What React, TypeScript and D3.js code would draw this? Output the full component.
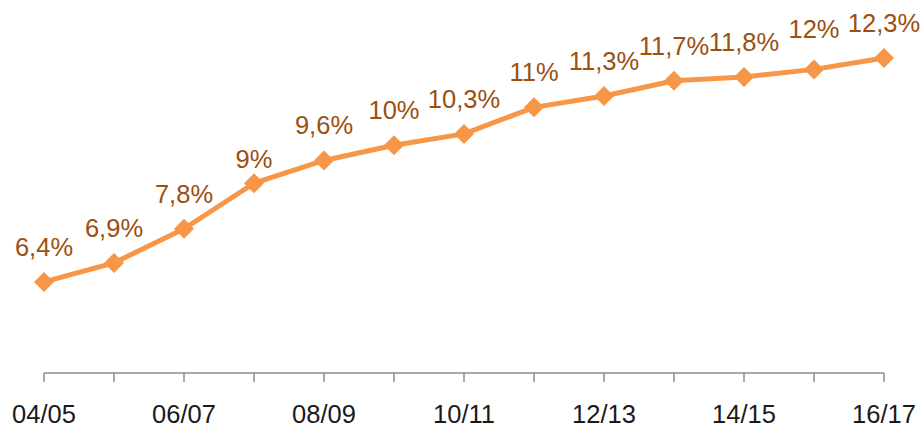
import React, { useRef, useEffect } from 'react'
import * as d3 from 'd3'

const years = ['04/05', '05/06', '06/07', '07/08', '08/09', '09/10', '10/11', '11/12', '12/13', '13/14', '14/15', '15/16', '16/17']
const values = [6.4, 6.9, 7.8, 9, 9.6, 10, 10.3, 11, 11.3, 11.7, 11.8, 12, 12.3]
const labels = ['6,4%', '6,9%', '7,8%', '9%', '9,6%', '10%', '10,3%', '11%', '11,3%', '11,7%', '11,8%', '12%', '12,3%']

export default function App() {
  const svgRef = useRef<SVGSVGElement>(null)

  useEffect(() => {
    const width = 922
    const height = 427
    const svg = d3.select(svgRef.current)
    svg.selectAll('*').remove()
    svg.attr('width', width).attr('height', height)

    const x = d3.scalePoint<string>().domain(years).range([44, 884])
    const y = d3.scaleLinear().domain([4, 12.3]).range([373, 58])

    // axis
    const axis = svg.append('g')
    axis.append('line')
      .attr('x1', 44).attr('x2', 884)
      .attr('y1', y(4)).attr('y2', y(4))
      .attr('stroke', '#8c8c8c').attr('stroke-width', 1.5)
    axis.selectAll('.tick')
      .data(years)
      .join('line')
      .attr('x1', d => x(d)!).attr('x2', d => x(d)!)
      .attr('y1', y(4)).attr('y2', y(4) + 9)
      .attr('stroke', '#8c8c8c').attr('stroke-width', 1.5)
    axis.selectAll('.lbl')
      .data(years.filter((d, i) => i % 2 === 0))
      .join('text')
      .attr('x', d => x(d)!)
      .attr('y', 423)
      .attr('text-anchor', 'middle')
      .attr('font-family', "'Liberation Sans', Arial, sans-serif")
      .attr('font-size', 25.5)
      .attr('fill', '#1a1a1a')
      .text(d => d)

    const line = d3.line<number>()
      .x((d, i) => x(years[i])!)
      .y(d => y(d))

    svg.append('path')
      .datum(values)
      .attr('d', line)
      .attr('fill', 'none')
      .attr('stroke', '#f79646')
      .attr('stroke-width', 5)

    svg.selectAll('.pt')
      .data(values)
      .join('path')
      .attr('d', d3.symbol(d3.symbolSquare, 200)())
      .attr('transform', (d, i) => `translate(${x(years[i])},${y(d)}) rotate(45)`)
      .attr('fill', '#f79646')

    // labels were hand-placed in the original; a couple sit off the usual gap
    const gap = (i: number) => (i === 3 ? 15 : i === 11 ? 31 : 26)

    svg.selectAll('.val')
      .data(values)
      .join('text')
      .attr('x', (d, i) => x(years[i])!)
      .attr('y', (d, i) => y(d) - gap(i))
      .attr('text-anchor', 'middle')
      .attr('font-family', "'Liberation Sans', Arial, sans-serif")
      .attr('font-size', 25.5)
      .attr('fill', '#9c4f0f')
      .text((d, i) => labels[i])
  }, [])

  return (
    <div style={{ position: 'absolute', left: 0, top: 0 }}>
      <svg ref={svgRef} role="img" aria-label="Line chart of percentages from 04/05 to 16/17" />
    </div>
  )
}
